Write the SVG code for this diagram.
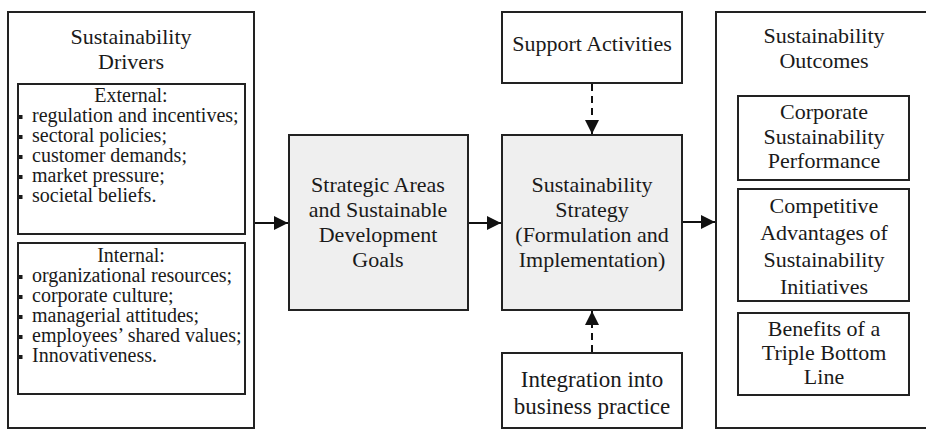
<svg xmlns="http://www.w3.org/2000/svg" width="926" height="429" viewBox="0 0 926 429">
<style>
  .box { fill: #ffffff; stroke: #222222; stroke-width: 2; }
  .gbox { fill: #efefef; stroke: #222222; stroke-width: 2; }
  .t { font-family: "Liberation Serif", "Times New Roman", serif; font-size: 22px; fill: #1a1a1a; text-anchor: middle; }
  .l { font-family: "Liberation Serif", "Times New Roman", serif; font-size: 20px; fill: #1a1a1a; }
  .lh { font-family: "Liberation Serif", "Times New Roman", serif; font-size: 20px; fill: #1a1a1a; text-anchor: middle; }
  .bul { fill: #1a1a1a; }
  .conn { stroke: #111111; stroke-width: 2; fill: none; }
  .dash { stroke: #111111; stroke-width: 2; fill: none; stroke-dasharray: 7 5; }
</style>
<defs>
  <marker id="arr" viewBox="0 0 14 14" refX="14" refY="7" markerWidth="14" markerHeight="14" markerUnits="userSpaceOnUse" orient="auto">
    <path d="M0,0 L14,7 L0,14 Z" fill="#111111"/>
  </marker>
</defs>
<rect width="926" height="429" fill="#ffffff"/>

<g id="drivers">
  <rect class="box" x="8" y="12" width="246" height="416"/>
  <text class="t" x="131" y="44">Sustainability</text>
  <text class="t" x="131" y="69">Drivers</text>
</g>

<g id="external">
  <rect class="box" x="18" y="84" width="227" height="150"/>
  <text class="lh" x="131" y="102">External:</text>
  <rect class="bul" x="19" y="115" width="3.5" height="4"/>
  <text class="l" x="32" y="122">regulation and incentives;</text>
  <rect class="bul" x="19" y="135" width="3.5" height="4"/>
  <text class="l" x="32" y="142">sectoral policies;</text>
  <rect class="bul" x="19" y="155" width="3.5" height="4"/>
  <text class="l" x="32" y="162">customer demands;</text>
  <rect class="bul" x="19" y="175" width="3.5" height="4"/>
  <text class="l" x="32" y="182">market pressure;</text>
  <rect class="bul" x="19" y="195" width="3.5" height="4"/>
  <text class="l" x="32" y="202">societal beliefs.</text>
</g>

<g id="internal">
  <rect class="box" x="18" y="243" width="227" height="151"/>
  <text class="lh" x="131" y="262">Internal:</text>
  <rect class="bul" x="19" y="275" width="3.5" height="4"/>
  <text class="l" x="32" y="282">organizational resources;</text>
  <rect class="bul" x="19" y="295" width="3.5" height="4"/>
  <text class="l" x="32" y="302">corporate culture;</text>
  <rect class="bul" x="19" y="315" width="3.5" height="4"/>
  <text class="l" x="32" y="322">managerial attitudes;</text>
  <rect class="bul" x="19" y="335" width="3.5" height="4"/>
  <text class="l" x="32" y="342">employees’ shared values;</text>
  <rect class="bul" x="19" y="355" width="3.5" height="4"/>
  <text class="l" x="32" y="362">Innovativeness.</text>
</g>

<g id="strategic-areas">
  <rect class="gbox" x="289" y="135" width="179" height="175"/>
  <text class="t" x="378" y="192">Strategic Areas</text>
  <text class="t" x="378" y="217">and Sustainable</text>
  <text class="t" x="378" y="242">Development</text>
  <text class="t" x="378" y="267">Goals</text>
</g>

<g id="support">
  <rect class="box" x="502" y="12" width="180" height="71"/>
  <text class="t" x="592" y="51">Support Activities</text>
</g>

<g id="strategy">
  <rect class="gbox" x="502" y="135" width="180" height="175"/>
  <text class="t" x="592" y="192">Sustainability</text>
  <text class="t" x="592" y="217">Strategy</text>
  <text class="t" x="592" y="242">(Formulation and</text>
  <text class="t" x="592" y="267">Implementation)</text>
</g>

<g id="integration">
  <rect class="box" x="502" y="353" width="180" height="75"/>
  <text class="t" x="592" y="387" style="font-size:23px">Integration into</text>
  <text class="t" x="592" y="414" style="font-size:23px">business practice</text>
</g>

<g id="outcomes">
  <rect class="box" x="716" y="12" width="214" height="416"/>
  <text class="t" x="824" y="43">Sustainability</text>
  <text class="t" x="824" y="68">Outcomes</text>
</g>

<g id="csp">
  <rect class="box" x="738" y="96" width="171" height="84"/>
  <text class="t" x="824" y="119">Corporate</text>
  <text class="t" x="824" y="144">Sustainability</text>
  <text class="t" x="824" y="168">Performance</text>
</g>

<g id="competitive">
  <rect class="box" x="738" y="189" width="171" height="112"/>
  <text class="t" x="824" y="213">Competitive</text>
  <text class="t" x="824" y="240">Advantages of</text>
  <text class="t" x="824" y="267">Sustainability</text>
  <text class="t" x="824" y="294">Initiatives</text>
</g>

<g id="tbl">
  <rect class="box" x="738" y="313" width="171" height="82"/>
  <text class="t" x="824" y="336">Benefits of a</text>
  <text class="t" x="824" y="360">Triple Bottom</text>
  <text class="t" x="824" y="384">Line</text>
</g>

<g id="connectors">
  <line class="conn" x1="255" y1="223" x2="288" y2="223" marker-end="url(#arr)"/>
  <line class="conn" x1="469" y1="223" x2="501" y2="223" marker-end="url(#arr)"/>
  <line class="conn" x1="683" y1="222" x2="715" y2="222" marker-end="url(#arr)"/>
  <line class="dash" x1="592" y1="84" x2="592" y2="134" marker-end="url(#arr)"/>
  <line class="dash" x1="592" y1="352" x2="592" y2="311" marker-end="url(#arr)"/>
</g>
</svg>
